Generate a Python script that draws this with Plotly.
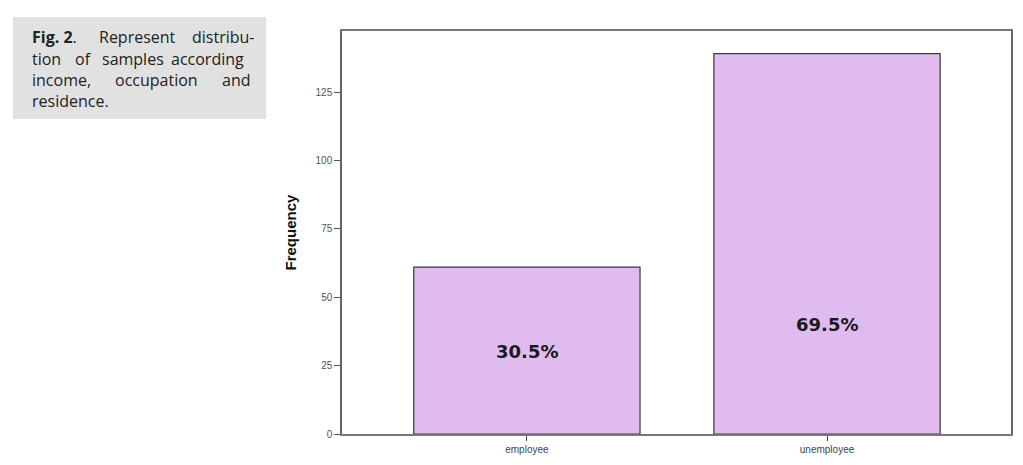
import plotly.graph_objects as go

categories = ['employee', 'unemployee']
frequency = [61, 139]
percent_labels = ['30.5%', '69.5%']
label_heights = [30, 40]
y_ticks = [0, 25, 50, 75, 100, 125]

# the page has an 8px body margin, so work in shifted pixels
OFF = 8
W, H = 1023 - OFF, 465 - OFF
L, R, T, B = 342 - OFF, 1013 - OFF, 31 - OFF, 434 - OFF

def px(x):
    return (x - OFF - L) / (R - L)

def py(y):
    return (B - (y - OFF)) / (B - T)

fig = go.Figure()
fig.add_trace(go.Bar(x=categories, y=frequency, width=0.754,
                     marker=dict(color='#dfbbef', line=dict(color='#3a3a3a', width=1.2)),
                     hoverinfo='x+y'))

annotations = []
for c, t, h in zip(categories, percent_labels, label_heights):
    annotations.append(dict(x=c, y=h, xref='x', yref='y', text='<b>' + t + '</b>',
                            showarrow=False, font=dict(family='DejaVu Sans', size=18, color='#1a1a1a')))

annotations.append(dict(x=0, y=0.5, xref='paper', yref='paper', text='<b>Frequency</b>', textangle=-90,
                        showarrow=False, xanchor='center', xshift=-52,
                        font=dict(family='Arial, Liberation Sans', size=15, color='#111')))

# caption, justified word by word
caption = [
    [(29, '<b>Fig. 2</b>.'), (96, 'Represent'), (190, 'distribu-')],
    [(29, 'tion'), (72, 'of'), (99, 'samples'), (168, 'according')],
    [(29, 'income,'), (112, 'occupation'), (220, 'and')],
    [(29, 'residence.')],
]
line_y = [37, 59, 80, 101]
for words, yy in zip(caption, line_y):
    for xx, w in words:
        annotations.append(dict(x=px(xx), y=py(yy), xref='paper', yref='paper', text=w,
                                showarrow=False, xanchor='left', yanchor='middle',
                                font=dict(family='Open Sans', size=16, color='#222')))

fig.update_layout(
    width=W, height=H,
    margin=dict(l=L, r=W - R, t=T, b=H - B),
    paper_bgcolor='white', plot_bgcolor='white',
    showlegend=False,
    annotations=annotations,
    shapes=[dict(type='rect', xref='paper', yref='paper', x0=px(12), x1=px(266), y0=py(119), y1=py(17),
                 fillcolor='#e1e1e1', line=dict(width=0), layer='below')],
    xaxis=dict(range=[-0.616, 1.613], showgrid=False, zeroline=False,
               showline=True, mirror=True, linecolor='#777', linewidth=1.5,
               ticks='outside', ticklen=5, tickcolor='#444',
               tickfont=dict(family='Arial, Liberation Sans', size=10, color='#444')),
    yaxis=dict(range=[0, 147.3], tickvals=y_ticks, showgrid=False, zeroline=False,
               showline=True, mirror=True, linecolor='#666', linewidth=1.5,
               ticks='outside', ticklen=6, tickcolor='#555',
               tickfont=dict(family='Arial, Liberation Sans', size=10, color='#555')),
)

fig.write_html("out.html")
